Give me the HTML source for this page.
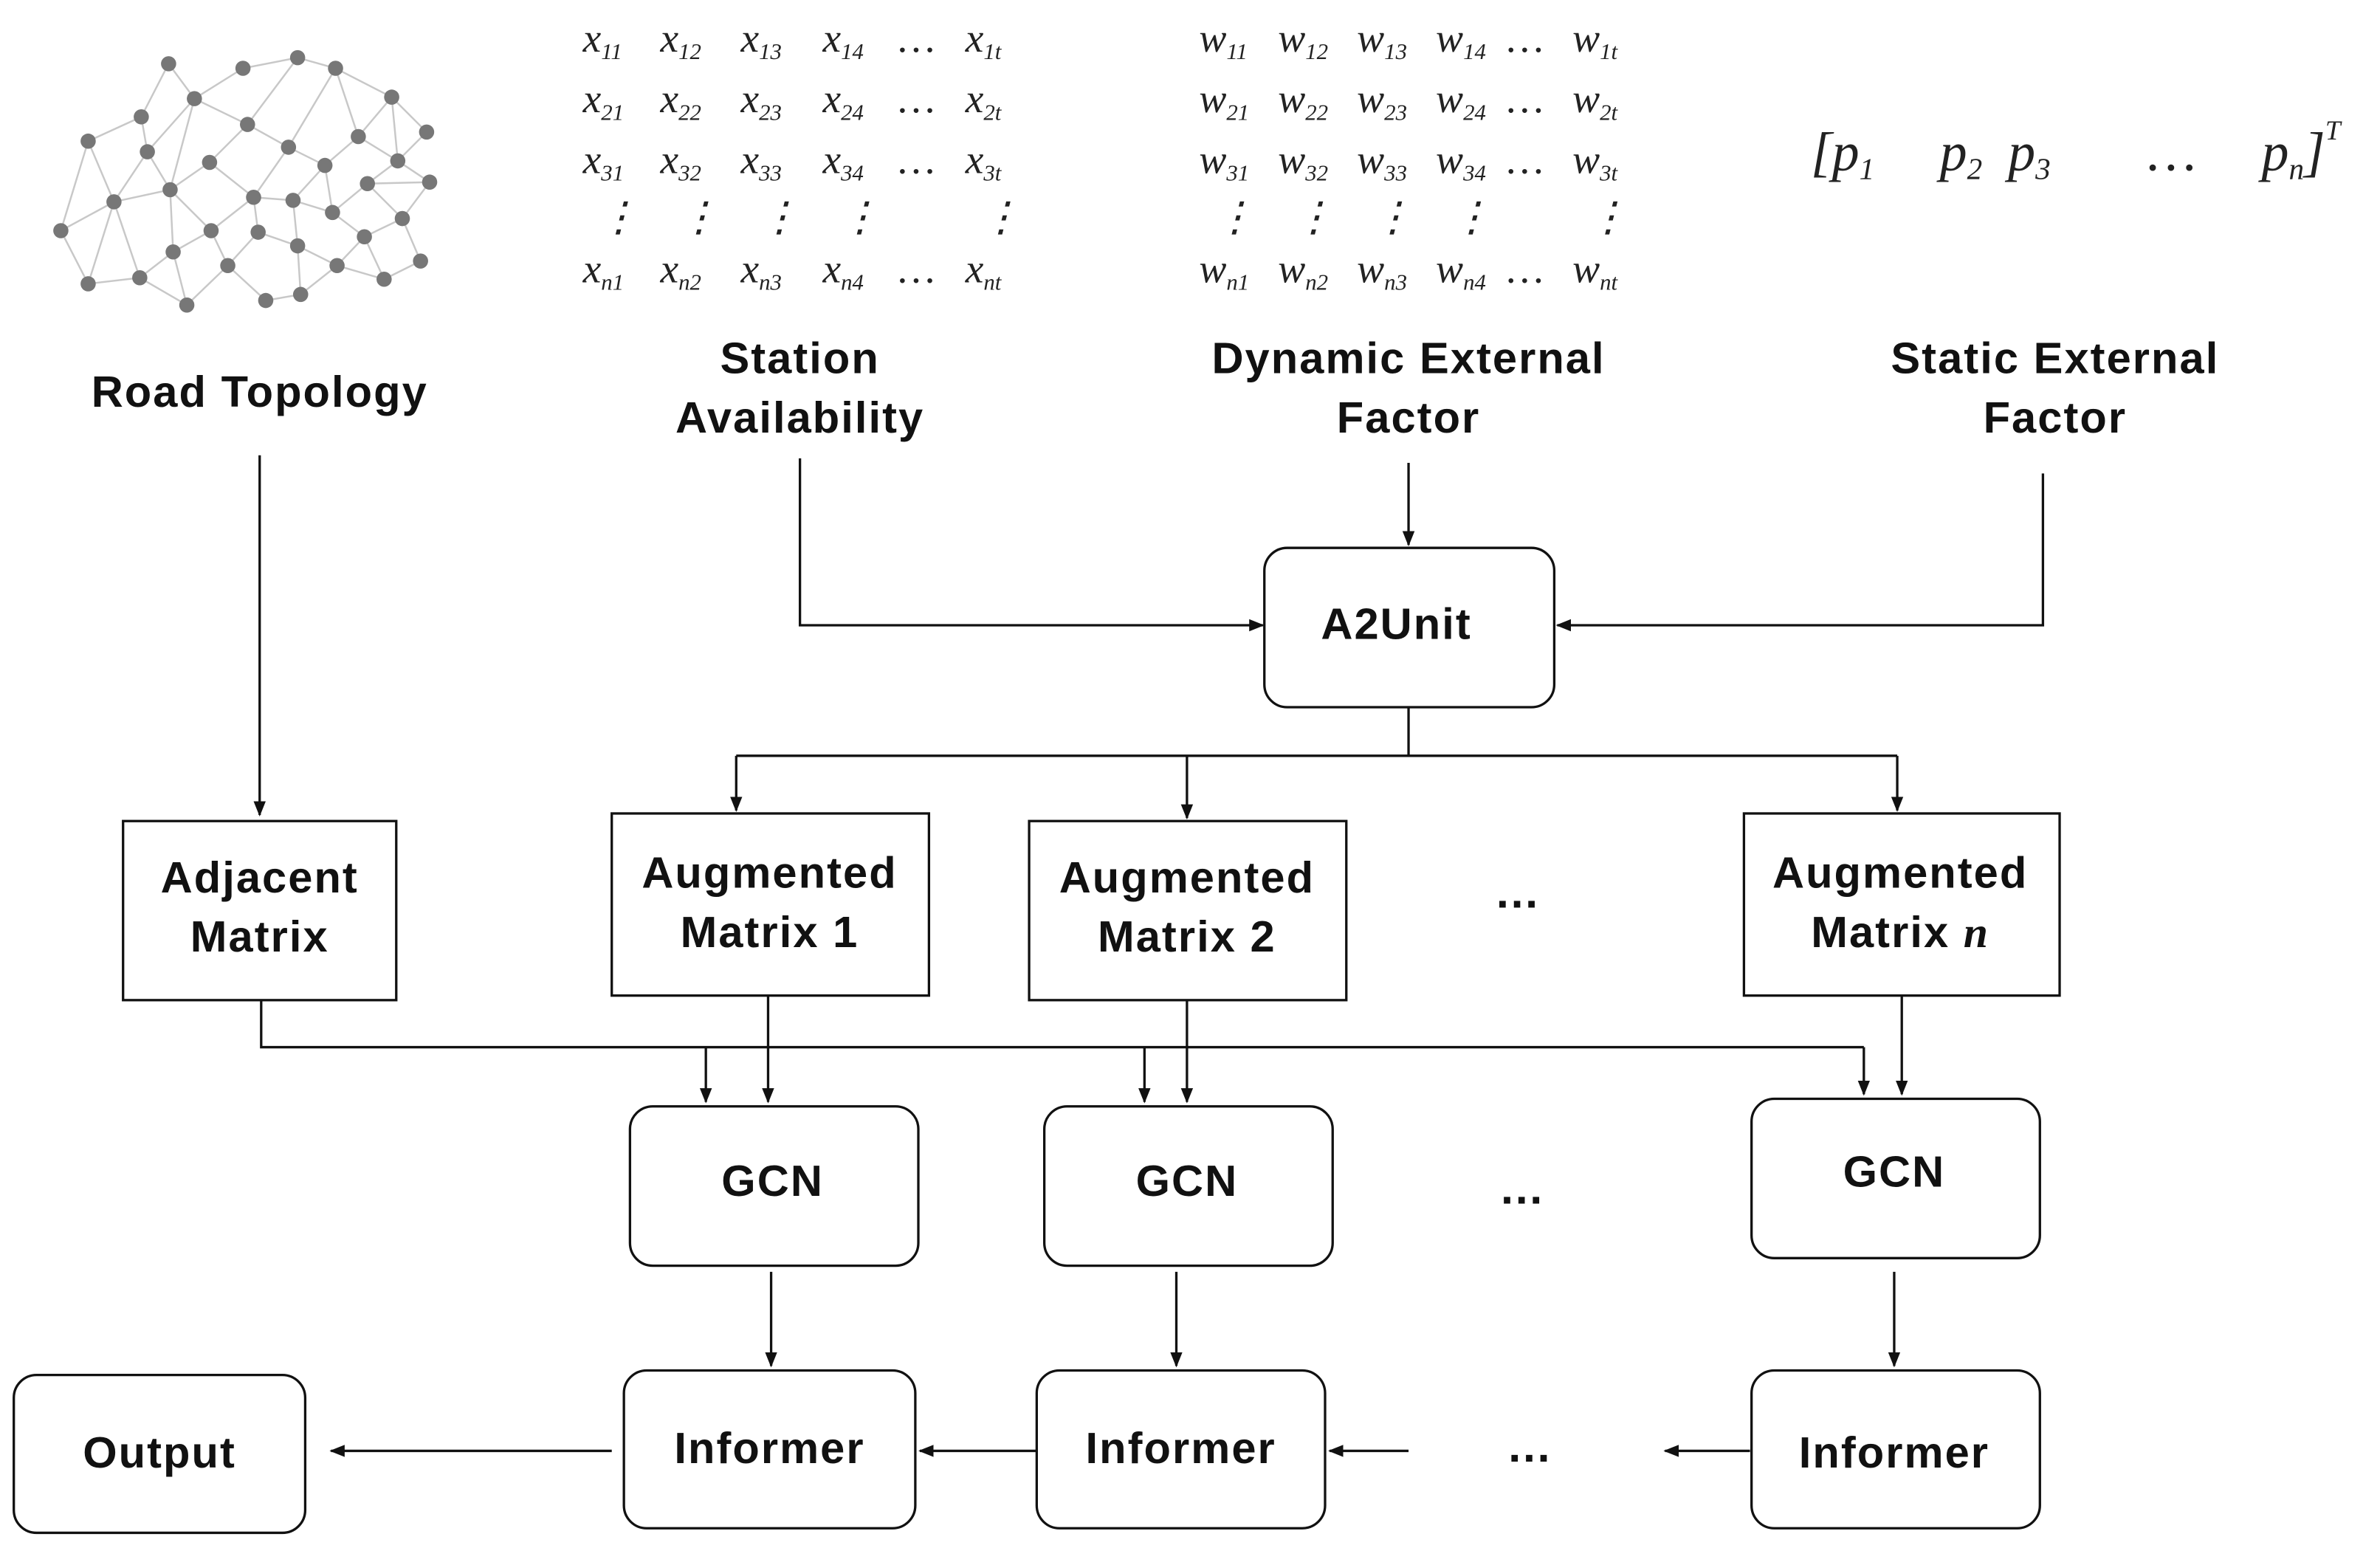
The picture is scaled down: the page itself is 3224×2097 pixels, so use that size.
<!DOCTYPE html>
<html><head><meta charset="utf-8"><style>
html,body{margin:0;padding:0;background:#fff}
svg{display:block}
.t{font-family:"Liberation Sans",sans-serif;font-weight:bold;font-size:29px;letter-spacing:1px;fill:#111;text-anchor:middle}
.m{font-family:"Liberation Serif",serif;font-style:italic;font-size:27px;fill:#222}
.s{font-size:15px}
.b{fill:#fff;stroke:#111;stroke-width:1.6}
.l{stroke:#111;stroke-width:1.6;fill:none}
.e{stroke:#c8c8c8;stroke-width:1.2;fill:none}
.n{fill:#777}
</style></head><body>
<svg width="3224" height="2097" viewBox="0 0 1568 1020" xmlns="http://www.w3.org/2000/svg">
<defs><marker id="a" markerWidth="10" markerHeight="10" refX="9" refY="5" orient="auto" markerUnits="userSpaceOnUse"><path d="M0,1 L10,5 L0,9 Z" fill="#111"/></marker></defs>
<g id="g">
<path class="e" d="M58,93 L93,77 L111,42 L128,65 L160,45 L196,38 L221,45 L258,64 L281,87 L262,106 L283,120 L265,144 L277,172 L253,184 L222,175 L198,194 L175,198 L150,175 L123,201 L92,183 L58,187 L40,152 L75,133 L58,93 M93,77 L97,100 L75,133 L112,125 L128,65 L163,82 L196,38 M163,82 L138,107 L112,125 L97,100 M163,82 L190,97 L221,45 L236,90 L262,106 M190,97 L167,130 L138,107 M190,97 L214,109 L236,90 M214,109 L193,132 L167,130 L170,153 L150,175 L139,152 L112,125 L114,166 L92,183 L75,133 M139,152 L167,130 M193,132 L219,140 L214,109 M219,140 L242,121 L262,106 M242,121 L265,144 L240,156 L219,140 M240,156 L253,184 M240,156 L222,175 L196,162 L170,153 M196,162 L198,194 L175,198 M196,162 L193,132 M114,166 L139,152 M58,187 L75,133 M40,152 L58,187 M128,65 L97,100 M258,64 L236,90 M281,87 L258,64 M283,120 L242,121 M277,172 L265,144 M150,175 L175,198 M123,201 L114,166 M58,93 L40,152 M111,42 L93,77 M258,64 L262,106"/>
<g class="n">
<circle cx="58" cy="93" r="5"/><circle cx="93" cy="77" r="5"/><circle cx="111" cy="42" r="5"/><circle cx="128" cy="65" r="5"/><circle cx="160" cy="45" r="5"/><circle cx="196" cy="38" r="5"/><circle cx="221" cy="45" r="5"/><circle cx="258" cy="64" r="5"/><circle cx="281" cy="87" r="5"/><circle cx="262" cy="106" r="5"/><circle cx="283" cy="120" r="5"/><circle cx="265" cy="144" r="5"/><circle cx="277" cy="172" r="5"/><circle cx="253" cy="184" r="5"/><circle cx="222" cy="175" r="5"/><circle cx="198" cy="194" r="5"/><circle cx="175" cy="198" r="5"/><circle cx="150" cy="175" r="5"/><circle cx="123" cy="201" r="5"/><circle cx="92" cy="183" r="5"/><circle cx="58" cy="187" r="5"/><circle cx="40" cy="152" r="5"/><circle cx="75" cy="133" r="5"/><circle cx="97" cy="100" r="5"/><circle cx="112" cy="125" r="5"/><circle cx="163" cy="82" r="5"/><circle cx="138" cy="107" r="5"/><circle cx="190" cy="97" r="5"/><circle cx="236" cy="90" r="5"/><circle cx="167" cy="130" r="5"/><circle cx="214" cy="109" r="5"/><circle cx="193" cy="132" r="5"/><circle cx="219" cy="140" r="5"/><circle cx="242" cy="121" r="5"/><circle cx="240" cy="156" r="5"/><circle cx="196" cy="162" r="5"/><circle cx="170" cy="153" r="5"/><circle cx="139" cy="152" r="5"/><circle cx="114" cy="166" r="5"/>
</g></g>
<text class="t" x="171" y="268">Road Topology</text>
<g class="m">
<text x="384" y="34">x<tspan class="s" dy="5">11</tspan></text><text x="435" y="34">x<tspan class="s" dy="5">12</tspan></text><text x="488" y="34">x<tspan class="s" dy="5">13</tspan></text><text x="542" y="34">x<tspan class="s" dy="5">14</tspan></text><text x="592" y="34">…</text><text x="636" y="34">x<tspan class="s" dy="5">1t</tspan></text>
<text x="384" y="74">x<tspan class="s" dy="5">21</tspan></text><text x="435" y="74">x<tspan class="s" dy="5">22</tspan></text><text x="488" y="74">x<tspan class="s" dy="5">23</tspan></text><text x="542" y="74">x<tspan class="s" dy="5">24</tspan></text><text x="592" y="74">…</text><text x="636" y="74">x<tspan class="s" dy="5">2t</tspan></text>
<text x="384" y="114">x<tspan class="s" dy="5">31</tspan></text><text x="435" y="114">x<tspan class="s" dy="5">32</tspan></text><text x="488" y="114">x<tspan class="s" dy="5">33</tspan></text><text x="542" y="114">x<tspan class="s" dy="5">34</tspan></text><text x="592" y="114">…</text><text x="636" y="114">x<tspan class="s" dy="5">3t</tspan></text>
<text x="394" y="152">⋮</text><text x="447" y="152">⋮</text><text x="500" y="152">⋮</text><text x="553" y="152">⋮</text><text x="646" y="152">⋮</text>
<text x="384" y="186">x<tspan class="s" dy="5">n1</tspan></text><text x="435" y="186">x<tspan class="s" dy="5">n2</tspan></text><text x="488" y="186">x<tspan class="s" dy="5">n3</tspan></text><text x="542" y="186">x<tspan class="s" dy="5">n4</tspan></text><text x="592" y="186">…</text><text x="636" y="186">x<tspan class="s" dy="5">nt</tspan></text>
<text x="790" y="34">w<tspan class="s" dy="5">11</tspan></text><text x="842" y="34">w<tspan class="s" dy="5">12</tspan></text><text x="894" y="34">w<tspan class="s" dy="5">13</tspan></text><text x="946" y="34">w<tspan class="s" dy="5">14</tspan></text><text x="993" y="34">…</text><text x="1036" y="34">w<tspan class="s" dy="5">1t</tspan></text>
<text x="790" y="74">w<tspan class="s" dy="5">21</tspan></text><text x="842" y="74">w<tspan class="s" dy="5">22</tspan></text><text x="894" y="74">w<tspan class="s" dy="5">23</tspan></text><text x="946" y="74">w<tspan class="s" dy="5">24</tspan></text><text x="993" y="74">…</text><text x="1036" y="74">w<tspan class="s" dy="5">2t</tspan></text>
<text x="790" y="114">w<tspan class="s" dy="5">31</tspan></text><text x="842" y="114">w<tspan class="s" dy="5">32</tspan></text><text x="894" y="114">w<tspan class="s" dy="5">33</tspan></text><text x="946" y="114">w<tspan class="s" dy="5">34</tspan></text><text x="993" y="114">…</text><text x="1036" y="114">w<tspan class="s" dy="5">3t</tspan></text>
<text x="800" y="152">⋮</text><text x="852" y="152">⋮</text><text x="904" y="152">⋮</text><text x="956" y="152">⋮</text><text x="1046" y="152">⋮</text>
<text x="790" y="186">w<tspan class="s" dy="5">n1</tspan></text><text x="842" y="186">w<tspan class="s" dy="5">n2</tspan></text><text x="894" y="186">w<tspan class="s" dy="5">n3</tspan></text><text x="946" y="186">w<tspan class="s" dy="5">n4</tspan></text><text x="993" y="186">…</text><text x="1036" y="186">w<tspan class="s" dy="5">nt</tspan></text>
<g style="font-size:36px">
<text x="1193" y="112">[p<tspan style="font-size:20px" dy="6">1</tspan></text>
<text x="1278" y="112">p<tspan style="font-size:20px" dy="6">2</tspan></text>
<text x="1323" y="112">p<tspan style="font-size:20px" dy="6">3</tspan></text>
<text x="1415" y="112">…</text>
<text x="1490" y="112">p<tspan style="font-size:20px" dy="6">n</tspan><tspan dy="-6">]</tspan><tspan style="font-size:18px" dy="-20">T</tspan></text>
</g>
</g>
<text class="t" x="527" y="246">Station</text><text class="t" x="527" y="285">Availability</text>
<text class="t" x="928" y="246">Dynamic External</text><text class="t" x="928" y="285">Factor</text>
<text class="t" x="1354" y="246">Static External</text><text class="t" x="1354" y="285">Factor</text>
<path class="l" marker-end="url(#a)" d="M171,300 V537"/>
<path class="l" marker-end="url(#a)" d="M527,302 V412 H832"/>
<path class="l" marker-end="url(#a)" d="M928,305 V359"/>
<path class="l" marker-end="url(#a)" d="M1346,312 V412 H1026"/>
<path class="l" d="M928,466 V498 M485,498 H1250"/>
<path class="l" marker-end="url(#a)" d="M485,498 V534"/>
<path class="l" marker-end="url(#a)" d="M782,498 V539"/>
<path class="l" marker-end="url(#a)" d="M1250,498 V534"/>
<path class="l" d="M172,659 V690 H1228"/>
<path class="l" marker-end="url(#a)" d="M465,690 V726"/>
<path class="l" marker-end="url(#a)" d="M754,690 V726"/>
<path class="l" marker-end="url(#a)" d="M1228,690 V721"/>
<path class="l" marker-end="url(#a)" d="M506,656 V726"/>
<path class="l" marker-end="url(#a)" d="M782,659 V726"/>
<path class="l" marker-end="url(#a)" d="M1253,656 V721"/>
<path class="l" marker-end="url(#a)" d="M508,838 V900"/>
<path class="l" marker-end="url(#a)" d="M775,838 V900"/>
<path class="l" marker-end="url(#a)" d="M1248,838 V900"/>
<path class="l" marker-end="url(#a)" d="M403,956 H218"/>
<path class="l" marker-end="url(#a)" d="M683,956 H606"/>
<path class="l" marker-end="url(#a)" d="M928,956 H876"/>
<path class="l" marker-end="url(#a)" d="M1153,956 H1097"/>
<rect class="b" x="833" y="361" width="191" height="105" rx="15"/><text class="t" x="920" y="421">A2Unit</text>
<rect class="b" x="81" y="541" width="180" height="118"/><text class="t" x="171" y="588">Adjacent</text><text class="t" x="171" y="627">Matrix</text>
<rect class="b" x="403" y="536" width="209" height="120"/><text class="t" x="507" y="585">Augmented</text><text class="t" x="507" y="624">Matrix 1</text>
<rect class="b" x="678" y="541" width="209" height="118"/><text class="t" x="782" y="588">Augmented</text><text class="t" x="782" y="627">Matrix 2</text>
<rect class="b" x="1149" y="536" width="208" height="120"/><text class="t" x="1252" y="585">Augmented</text><text class="t" x="1252" y="624">Matrix <tspan font-family="Liberation Serif" font-style="italic">n</tspan></text>
<text class="t" x="1000" y="598" style="font-size:30px">…</text>
<rect class="b" x="415" y="729" width="190" height="105" rx="15"/><text class="t" x="509" y="788">GCN</text>
<rect class="b" x="688" y="729" width="190" height="105" rx="15"/><text class="t" x="782" y="788">GCN</text>
<rect class="b" x="1154" y="724" width="190" height="105" rx="15"/><text class="t" x="1248" y="782">GCN</text>
<text class="t" x="1003" y="793" style="font-size:30px">…</text>
<rect class="b" x="411" y="903" width="192" height="104" rx="15"/><text class="t" x="507" y="964">Informer</text>
<rect class="b" x="683" y="903" width="190" height="104" rx="15"/><text class="t" x="778" y="964">Informer</text>
<rect class="b" x="1154" y="903" width="190" height="104" rx="15"/><text class="t" x="1248" y="967">Informer</text>
<rect class="b" x="9" y="906" width="192" height="104" rx="15"/><text class="t" x="105" y="967">Output</text>
<text class="t" x="1008" y="963" style="font-size:30px">…</text>
</svg>
</body></html>
